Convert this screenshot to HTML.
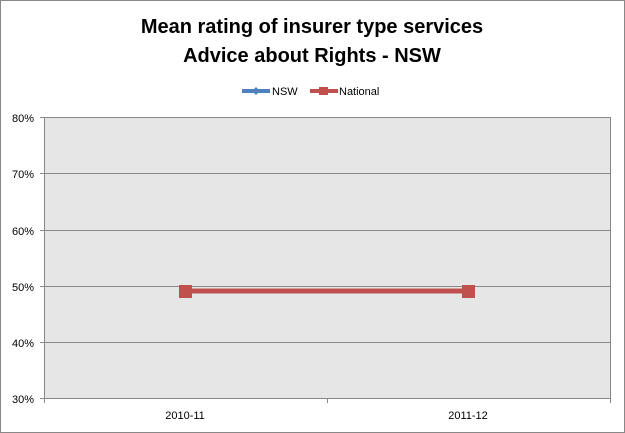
<!DOCTYPE html>
<html><head><style>body{margin:0;background:#fff}svg{display:block}</style></head><body>
<svg width="625" height="433" xmlns="http://www.w3.org/2000/svg" font-family="Liberation Sans, sans-serif">
<rect x="0.5" y="0.5" width="624" height="432" fill="#fff" stroke="#888"/>
<text x="312" y="33" text-anchor="middle" font-size="20" font-weight="bold">Mean rating of insurer type services</text>
<text x="312" y="62" text-anchor="middle" font-size="20" font-weight="bold">Advice about Rights - NSW</text>
<line x1="242" y1="91" x2="270" y2="91" stroke="#4f81bd" stroke-width="4"/>
<path d="M252 91 L256 87 L260 91 L256 95Z" fill="#4f81bd"/>
<text x="272" y="95" font-size="11">NSW</text>
<line x1="310" y1="91" x2="338" y2="91" stroke="#c0504d" stroke-width="4"/>
<rect x="319" y="87" width="9" height="8" fill="#c0504d"/>
<text x="339" y="95" font-size="11">National</text>
<rect x="44.5" y="117.5" width="566" height="281" fill="#e6e6e6" stroke="#888"/>
<g stroke="#888">
<line x1="44" y1="173.5" x2="610" y2="173.5"/><line x1="44" y1="230.5" x2="610" y2="230.5"/>
<line x1="44" y1="286.5" x2="610" y2="286.5"/><line x1="44" y1="342.5" x2="610" y2="342.5"/>
<line x1="40" y1="117.5" x2="44" y2="117.5"/><line x1="40" y1="173.5" x2="44" y2="173.5"/><line x1="40" y1="230.5" x2="44" y2="230.5"/><line x1="40" y1="286.5" x2="44" y2="286.5"/><line x1="40" y1="342.5" x2="44" y2="342.5"/><line x1="40" y1="398.5" x2="44" y2="398.5"/>
<line x1="44.5" y1="398" x2="44.5" y2="403"/><line x1="327.5" y1="398" x2="327.5" y2="403"/><line x1="610.5" y1="398" x2="610.5" y2="403"/>
</g>
<g font-size="11" text-anchor="end">
<text x="34" y="122">80%</text><text x="34" y="178">70%</text><text x="34" y="235">60%</text><text x="34" y="291">50%</text><text x="34" y="347">40%</text><text x="34" y="403">30%</text>
</g>
<text x="185" y="419" font-size="11" text-anchor="middle">2010-11</text>
<text x="468" y="419" font-size="11" text-anchor="middle">2011-12</text>
<line x1="185" y1="291" x2="468" y2="291" stroke="#c0504d" stroke-width="5"/>
<rect x="179" y="285" width="13" height="13" fill="#c0504d"/>
<rect x="462" y="285" width="13" height="13" fill="#c0504d"/>
</svg>
</body></html>
